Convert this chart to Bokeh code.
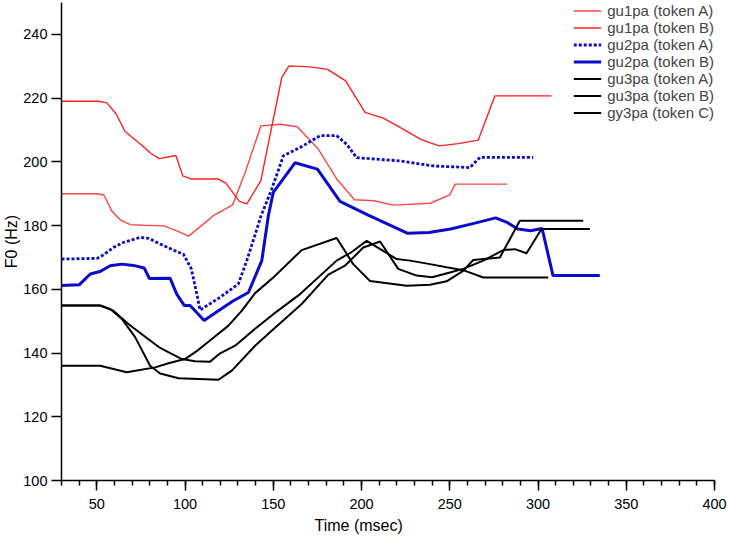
from bokeh.plotting import figure
from bokeh.models import FixedTicker, Legend, LegendItem, Range1d, Title
from bokeh.embed import file_html
from bokeh.resources import INLINE

# ---- data (Time in msec, F0 in Hz) ----
gu1pa_A_t = [30, 50, 54, 58.5, 63.5, 69, 76, 88, 95, 102, 110, 116, 127, 134, 143, 154,
             163.5, 175.5, 186, 196, 207, 218, 239, 250, 253, 282.5]
gu1pa_A_f = [190, 190, 189.6, 184.6, 181.7, 180.3, 180.1, 179.9, 178.4, 176.7, 180.3, 183.1,
             186.5, 196.6, 211.3, 211.8, 211, 204, 194.6, 188.1, 187.8, 186.4, 187, 189.6, 193, 193]

gu1pa_B_t = [30, 51, 55.7, 61, 66, 70.8, 75.5, 80.6, 85.3, 94.8, 98.7, 103.8, 118.9, 123.1,
             130.8, 135, 142.9, 154.8, 158.9, 170.8, 180.8, 191, 202, 212.3, 221.8, 234.1,
             244.1, 254.8, 266.1, 275.6, 307.7]
gu1pa_B_f = [219, 219, 218.5, 215, 209.5, 207.3, 205.2, 202.7, 201, 202, 195.6, 194.6, 194.6,
             193.3, 187.6, 186.8, 194, 226.4, 230.1, 229.8, 229, 225.4, 215.5, 213.7, 210.8,
             206.9, 205, 205.7, 206.8, 220.7, 220.7]

gu2pa_A_t = [30, 50, 52.9, 59.4, 65.1, 74.6, 79.3, 85.9, 94.4, 99.1, 103.5, 106.7, 108.5,
             119.9, 130.2, 135, 143.1, 149.1, 155.7, 165.2, 176.5, 185.9, 191.6, 197.3, 221.8,
             240.6, 261.4, 267.1, 297.3]
gu2pa_A_f = [169.5, 169.7, 170.5, 173.1, 174.7, 176.3, 176, 174.2, 172.1, 171, 166.5, 158.5,
             153.5, 157.5, 161.7, 169, 183.1, 191.4, 201.9, 204.5, 208.2, 208.2, 205.5, 201.3,
             200.3, 198.7, 198.2, 201.4, 201.4]

gu2pa_B_t = [30, 40, 46.3, 51.9, 57.6, 64.2, 70.8, 76.8, 79.8, 91.5, 95.3, 99.6, 102.9, 110.8,
             118.9, 127.4, 135.9, 143.5, 147.2, 150, 162.3, 175, 187.8, 203.8, 225.9, 238.2,
             250.5, 263.7, 276, 282.5, 288.6, 295.8, 302.3, 308.5, 335]
gu2pa_B_f = [161.2, 161.4, 164.8, 165.6, 167.4, 167.9, 167.5, 166.7, 163.4, 163.5, 158.5, 154.9,
             154.9, 150.2, 153.3, 156.4, 159, 169, 183.1, 190.4, 199.7, 197.7, 187.6, 183.3,
             177.6, 177.8, 178.9, 180.7, 182.4, 181, 178.9, 178.4, 179.1, 164.3, 164.3]

gu3pa_A_t = [30, 51.9, 57.6, 64.2, 71.7, 80.2, 85.9, 96.3, 118.9, 126.5, 139.7, 149.1, 166.1,
             181.2, 190.6, 201, 210.5, 220.8, 231.2, 240, 250.1, 257.6, 269, 280.3, 286.9,
             293.5, 302, 329.4]
gu3pa_A_f = [154.9, 154.9, 153.8, 150.7, 145, 136, 133.6, 132.1, 131.6, 134.5, 142.3, 147,
             155.4, 164.6, 167.4, 173.1, 175, 166.4, 164.3, 163.8, 165.3, 166.4, 169, 172.3,
             172.6, 171.3, 178.9, 178.9]

gu3pa_B_t = [30, 51.9, 59.4, 67.9, 77.4, 85.9, 98.2, 105.7, 114.2, 119.9, 128.4, 139.7, 150,
             165.2, 185.9, 194.4, 202.9, 219.9, 227.5, 238.8, 248.2, 257.6, 269, 305.8]
gu3pa_B_f = [154.9, 154.9, 153.3, 149.1, 145.1, 141.6, 138.1, 137.4, 137.3, 139.9, 142.3, 147.6,
             152.2, 158.5, 169, 171.7, 175.2, 169.5, 169, 167.9, 166.9, 166, 163.7, 163.7]

gy3pa_C_t = [30, 51.9, 67, 72.7, 83.1, 90.6, 100, 107.6, 115.2, 124.6, 132.2, 139.7, 150,
             166.1, 185.9, 195.3, 204.8, 225.6, 238.8, 248.2, 257.6, 263.3, 278.4, 289.7, 325.6]
gy3pa_C_f = [136, 136, 134, 134.5, 135.5, 136.8, 138.1, 141, 144.4, 148.6, 153.3, 158.8, 163.7,
             172.3, 176.1, 167.9, 162.6, 161.1, 161.4, 162.5, 165.8, 169.2, 170, 181.5, 181.5]

series_labels = ["gu1pa (token A)", "gu1pa (token B)", "gu2pa (token A)", "gu2pa (token B)",
                 "gu3pa (token A)", "gu3pa (token B)", "gy3pa (token C)"]

x_major = [50, 100, 150, 200, 250, 300, 350, 400]
x_minor = list(range(30, 401, 10))
y_major = [100, 120, 140, 160, 180, 200, 220, 240]

FONT = "Liberation Sans"

p = figure(width=729, height=538, x_range=Range1d(30, 400), y_range=Range1d(100, 250),
           output_backend="svg", toolbar_location=None,
           min_border_left=61, min_border_right=15, min_border_top=2, min_border_bottom=58)
p.outline_line_color = None
p.xgrid.visible = False
p.ygrid.visible = False
p.background_fill_color = "white"
p.border_fill_color = "white"

for ax in (p.xaxis[0], p.yaxis[0]):
    ax.axis_line_color = "black"
    ax.axis_line_width = 1.5
    ax.major_tick_line_color = "black"
    ax.major_tick_line_width = 1.5
    ax.minor_tick_line_color = "black"
    ax.minor_tick_line_width = 1.5
    ax.major_tick_in = 0
    ax.minor_tick_in = 0
    ax.major_label_text_font = FONT
    ax.major_label_text_font_size = "14.5px"
    ax.major_label_text_color = "black"

p.xaxis.ticker = FixedTicker(ticks=x_major, minor_ticks=x_minor)
p.xaxis.major_tick_out = 10
p.xaxis.minor_tick_out = 5
p.xaxis.major_label_standoff = 8

p.yaxis.ticker = FixedTicker(ticks=y_major, minor_ticks=[])
p.yaxis.major_tick_out = 10
p.yaxis.minor_tick_out = 0
p.yaxis.major_label_standoff = 4
p.yaxis.axis_label = "F0 (Hz)"
p.yaxis.axis_label_text_font = FONT
p.yaxis.axis_label_text_font_size = "16px"
p.yaxis.axis_label_text_font_style = "normal"
p.yaxis.axis_label_text_color = "black"
p.yaxis.axis_label_standoff = 0

red_a = "#ff4646"
red_b = "#ff2020"
blue = "#0a0acc"

r1 = p.line(gu1pa_A_t, gu1pa_A_f, line_color=red_a, line_width=1.4)
r2 = p.line(gu1pa_B_t, gu1pa_B_f, line_color=red_b, line_width=1.4)
r3 = p.line(gu2pa_A_t, gu2pa_A_f, line_color=blue, line_width=2.8, line_dash="3 2")
r4 = p.line(gu2pa_B_t, gu2pa_B_f, line_color=blue, line_width=3)
r5 = p.line(gu3pa_A_t, gu3pa_A_f, line_color="black", line_width=2)
r6 = p.line(gu3pa_B_t, gu3pa_B_f, line_color="black", line_width=2)
r7 = p.line(gy3pa_C_t, gy3pa_C_f, line_color="black", line_width=2)

items = [LegendItem(label=lab, renderers=[r]) for lab, r in
         zip(series_labels, [r1, r2, r3, r4, r5, r6, r7])]
legend = Legend(items=items, location="top_right", margin=0, padding=1, spacing=0,
                glyph_width=28, glyph_height=17, label_height=17, label_standoff=6,
                label_text_font=FONT, label_text_font_size="15px",
                border_line_color=None, background_fill_alpha=0)
p.add_layout(legend)

xlabel = Title(text="Time (msec)", align="left", offset=253, standoff=7,
               text_font=FONT, text_font_size="16px", text_font_style="normal",
               text_color="black")
p.add_layout(xlabel, "below")

open("out.html", "w").write(file_html(p, INLINE))
